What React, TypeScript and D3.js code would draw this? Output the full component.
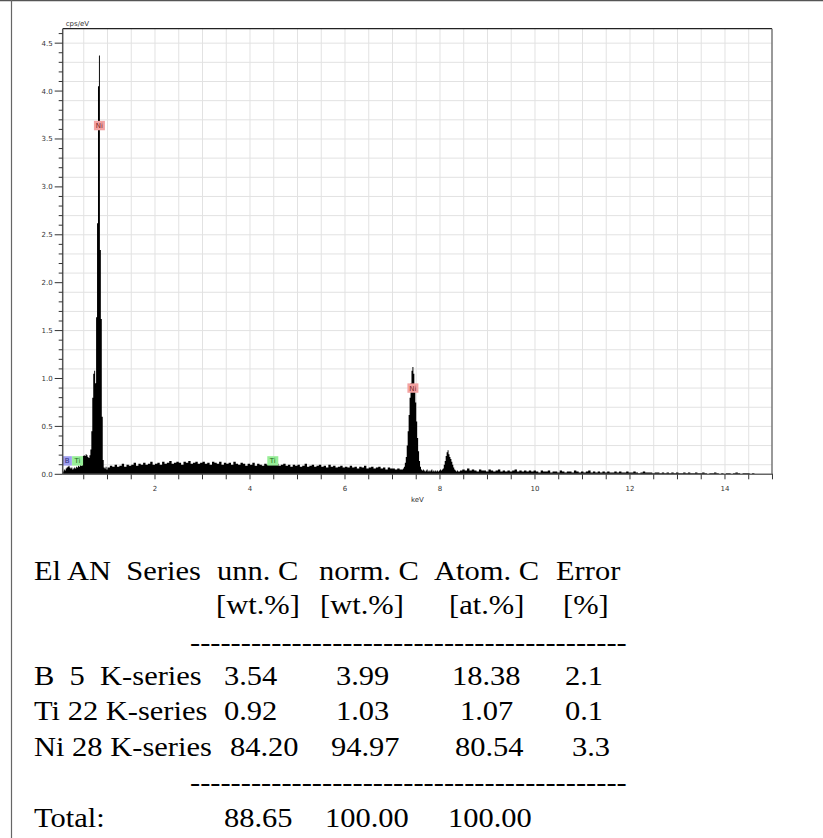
import React from 'react';
import * as d3 from 'd3';

// spectrum segments: start energy (keV), channel step (keV), cps/eV values
const lowStart = 0.06;
const lowStep = 0.02;
const lowCounts = [
  0.03, 0.05, 0.04, 0.06, 0.07, 0.08, 0.09, 0.07, 0.06, 0.07,
  0.05, 0.06, 0.07, 0.06, 0.08, 0.07, 0.09, 0.08, 0.10, 0.09,
  0.11, 0.19, 0.20, 0.19, 0.21, 0.20, 0.18, 0.17, 0.20, 0.26,
  0.45, 0.80, 1.05, 1.08, 0.95, 1.64, 2.62, 4.05, 4.37, 2.34,
  1.62, 0.60, 0.15, 0.07, 0.06, 0.08, 0.05,
];

const bremsStart = 1.0;
const bremsStep = 0.05;
const bremsCounts = [
  0.07, 0.09, 0.08, 0.10, 0.08, 0.09, 0.11, 0.08, 0.10, 0.09,
  0.10, 0.12, 0.09, 0.11, 0.10, 0.12, 0.10, 0.11, 0.13, 0.10,
  0.11, 0.12, 0.10, 0.13, 0.11, 0.12, 0.14, 0.11, 0.12, 0.13,
  0.12, 0.10, 0.13, 0.12, 0.14, 0.11, 0.12, 0.13, 0.11, 0.12,
  0.13, 0.11, 0.12, 0.10, 0.13, 0.12, 0.11, 0.13, 0.10, 0.12,
  0.11, 0.12, 0.10, 0.13, 0.11, 0.10, 0.12, 0.11, 0.09, 0.11,
  0.10, 0.12, 0.09, 0.11, 0.10, 0.09, 0.11, 0.10, 0.12, 0.11,
  0.13, 0.11, 0.09, 0.10, 0.11, 0.09, 0.10, 0.08, 0.10, 0.09,
  0.10, 0.08, 0.09, 0.11, 0.08, 0.09, 0.10, 0.08, 0.09, 0.10,
  0.08, 0.09, 0.07, 0.10, 0.08, 0.09, 0.07, 0.08, 0.09, 0.07,
  0.08, 0.07, 0.09, 0.07, 0.08, 0.06, 0.08, 0.07, 0.09, 0.06,
  0.07, 0.08, 0.06, 0.07, 0.08, 0.06, 0.07, 0.05, 0.07, 0.06,
  0.06, 0.05, 0.06, 0.05,
];

const niKStart = 7.2;
const niKStep = 0.02;
const niKCounts = [
  0.05, 0.06, 0.08, 0.12, 0.18, 0.30, 0.45, 0.62, 0.80, 0.95,
  1.08, 1.12, 1.05, 0.92, 0.75, 0.55, 0.38, 0.24, 0.14, 0.08,
  0.05, 0.04, 0.05, 0.04, 0.03, 0.04, 0.05, 0.03, 0.04, 0.03,
  0.04, 0.05, 0.03, 0.04, 0.03, 0.04, 0.03, 0.04, 0.03, 0.04,
  0.05, 0.04, 0.05, 0.06, 0.10, 0.14, 0.19, 0.23, 0.25, 0.21,
  0.18, 0.16, 0.13, 0.10, 0.07, 0.05, 0.04, 0.03, 0.04, 0.03,
  0.03,
];

const tailStart = 8.42;
const tailStep = 0.05;
const tailCounts = [
  0.04, 0.05, 0.04, 0.06, 0.04, 0.05, 0.04, 0.03, 0.05, 0.04,
  0.04, 0.03, 0.05, 0.04, 0.03, 0.04, 0.05, 0.03, 0.04, 0.03,
  0.04, 0.03, 0.04, 0.05, 0.03, 0.04, 0.03, 0.04, 0.03, 0.04,
  0.03, 0.04, 0.03, 0.02, 0.04, 0.03, 0.03, 0.04, 0.02, 0.03,
  0.03, 0.02, 0.04, 0.03, 0.02, 0.03, 0.03, 0.02, 0.04, 0.03,
  0.02, 0.03, 0.02, 0.03, 0.04, 0.02, 0.03, 0.02, 0.03, 0.02,
  0.03, 0.02, 0.03, 0.02, 0.02, 0.03, 0.02, 0.03, 0.02, 0.02,
  0.03, 0.02, 0.02, 0.03, 0.02, 0.01, 0.02, 0.03, 0.02, 0.02,
  0.02, 0.01, 0.02, 0.02, 0.01, 0.02, 0.01, 0.02, 0.01, 0.02,
  0.01, 0.02, 0.01, 0.01, 0.02, 0.01, 0.02, 0.01, 0.01, 0.02,
  0.01, 0.01, 0.02, 0.01, 0.00, 0.01, 0.01, 0.02, 0.01, 0.00,
  0.01, 0.00, 0.01, 0.01, 0.00, 0.01, 0.02, 0.01, 0.00, 0.01,
  0.01, 0.01, 0.00, 0.01,
];

const xLabels = [2, 4, 6, 8, 10, 12, 14];
const yLabels = [0, 0.5, 1, 1.5, 2, 2.5, 3, 3.5, 4, 4.5];

// element markers: symbol, energy (keV), height (cps/eV)
const markerEls = ['B', 'Ti', 'Ni', 'Ti', 'Ni'];
const markerKeV = [0.15, 0.37, 0.83, 4.48, 7.43];
const markerCps = [0.14, 0.14, 3.64, 0.14, 0.9];
const markerColors: Record<string, [string, string]> = {
  B: ['#9f9ff0', '#2c2c7a'],
  Ti: ['#97ee97', '#1e6a1e'],
  Ni: ['#f3a2a2', '#7a2424'],
};

// results table
const headRow1 = ['El AN  Series', 'unn. C', 'norm. C', 'Atom. C', 'Error'];
const headRow2 = ['', '[wt.%]', '[wt.%]', '[at.%]', '[%]'];
const rowB = ['B  5  K-series', '3.54', '3.99', '18.38', '2.1'];
const rowTi = ['Ti 22 K-series', '0.92', '1.03', '1.07', '0.1'];
const rowNi = ['Ni 28 K-series', '84.20', '94.97', '80.54', '3.3'];
const rowTotal = ['Total:', '88.65', '100.00', '100.00', ''];

const W = 823;
const H = 838;
const plot = { left: 62.7, right: 772, top: 28.7, bottom: 474.3 };
const stretch = 1.13;

function seg(start: number, step: number, vals: number[]) {
  return vals.map((v, i) => ({ e: start + i * step, v }));
}

export default function App() {
  const x = d3.scaleLinear().domain([0.057, 14.99]).range([plot.left, plot.right]);
  const y = d3.scaleLinear().domain([0, 4.651]).range([plot.bottom, plot.top]);

  const pts = [
    ...seg(lowStart, lowStep, lowCounts),
    ...seg(bremsStart, bremsStep, bremsCounts),
    ...seg(niKStart, niKStep, niKCounts),
    ...seg(tailStart, tailStep, tailCounts),
  ];
  pts.push({ e: tailStart + tailCounts.length * tailStep, v: 0 });

  const area = d3
    .area<{ e: number; v: number }>()
    .x((d) => x(d.e))
    .y0(y(0))
    .y1((d) => y(d.v))
    .curve(d3.curveStepAfter);

  const vGrid = d3.range(0.5, 15, 0.5);
  const hGrid = d3.range(0.1, 4.65, 0.2);
  const yMinor = d3.range(0, 4.65, 0.1);

  const tickFont = { fontFamily: 'DejaVu Sans, Verdana, sans-serif', fontSize: 7, fill: '#333' };

  const tableFont = { fontFamily: '"Liberation Serif", "Times New Roman", serif', fontSize: 27, fill: '#000' };
  const rows: { cells: string[]; xs: number[]; base: number }[] = [
    { cells: headRow1, xs: [34, 217, 319, 434, 556], base: 580 },
    { cells: headRow2, xs: [34, 216, 320, 449, 563], base: 614 },
    { cells: rowB, xs: [34, 224, 336, 452, 565], base: 685 },
    { cells: rowTi, xs: [34, 224, 336, 460, 565], base: 720 },
    { cells: rowNi, xs: [34, 230, 331, 455, 572], base: 756 },
    { cells: rowTotal, xs: [34, 224, 325, 448, 0], base: 827 },
  ];
  const dashes = '-'.repeat(43);

  return (
    <div style={{ position: 'absolute', left: 0, top: 0 }}>
      <svg width={W} height={H} style={{ display: 'block', background: '#fff' }}>
        {/* page frame */}
        <line x1={0} x2={W} y1={0.5} y2={0.5} stroke="#555" strokeWidth={1.5} />
        <line x1={11.5} x2={11.5} y1={0} y2={H} stroke="#666" strokeWidth={1.2} />

        {/* grid */}
        {vGrid.map((g) => (
          <line key={'vg' + g} x1={x(g)} x2={x(g)} y1={plot.top} y2={plot.bottom} stroke="#e2e2e2" strokeWidth={1} />
        ))}
        {hGrid.map((g) => (
          <line key={'hg' + g} x1={plot.left} x2={plot.right} y1={y(g)} y2={y(g)} stroke="#e2e2e2" strokeWidth={1} />
        ))}

        {/* spectrum */}
        <path d={area(pts) || ''} fill="#000" />

        {/* element markers */}
        {markerEls.map((el, i) => {
          const cx = x(markerKeV[i]);
          const cy = y(markerCps[i]);
          const w = el === 'B' ? 9.5 : 11;
          const [bg, fg] = markerColors[el];
          return (
            <g key={'m' + i}>
              <rect x={cx - w / 2} y={cy - 4.7} width={w} height={9.4} fill={bg} />
              <text x={cx} y={cy + 2.6} textAnchor="middle" {...tickFont} fill={fg}>
                {el}
              </text>
            </g>
          );
        })}

        {/* frame of plot */}
        <line x1={plot.left} x2={plot.right} y1={plot.top} y2={plot.top} stroke="#222" strokeWidth={1.2} />
        <line x1={plot.right} x2={plot.right} y1={plot.top} y2={plot.bottom} stroke="#777" strokeWidth={1.5} />
        <line x1={plot.left} x2={plot.left} y1={plot.top} y2={plot.bottom} stroke="#555" strokeWidth={1.5} />
        <line x1={plot.left} x2={plot.right + 1} y1={plot.bottom} y2={plot.bottom} stroke="#666" strokeWidth={1.5} />

        {/* y ticks */}
        {yMinor.map((t, i) => (
          <line
            key={'yt' + i}
            x1={plot.left - (i % 5 === 0 ? 8 : 4)}
            x2={plot.left}
            y1={y(t)}
            y2={y(t)}
            stroke="#333"
            strokeWidth={1}
          />
        ))}
        {yLabels.map((t) => (
          <text key={'yl' + t} x={plot.left - 10} y={y(t) + 2.5} textAnchor="end" {...tickFont}>
            {t.toFixed(1)}
          </text>
        ))}
        <text x={plot.left + 3} y={plot.top - 3} {...tickFont}>
          cps/eV
        </text>

        {/* x ticks */}
        {vGrid.concat([15]).map((t) => (
          <line key={'xt' + t} x1={x(t)} x2={x(t)} y1={plot.bottom} y2={plot.bottom + 5} stroke="#333" strokeWidth={1} />
        ))}
        {xLabels.map((t) => (
          <text key={'xl' + t} x={x(t)} y={plot.bottom + 17} textAnchor="middle" {...tickFont}>
            {t}
          </text>
        ))}
        <text x={(plot.left + plot.right) / 2} y={plot.bottom + 28} textAnchor="middle" {...tickFont}>
          keV
        </text>

        {/* results table, text is stretched sideways like the scanned page */}
        <g transform={`scale(${stretch},1)`}>
          {rows.map((r, ri) =>
            r.cells.map((c, ci) =>
              c ? (
                <text key={'c' + ri + '-' + ci} x={r.xs[ci] / stretch} y={r.base} {...tableFont} style={{ whiteSpace: 'pre' }}>
                  {c}
                </text>
              ) : null
            )
          )}
          <text x={190 / stretch} y={651} {...tableFont}>{dashes}</text>
          <text x={190 / stretch} y={791} {...tableFont}>{dashes}</text>
        </g>
      </svg>
    </div>
  );
}
